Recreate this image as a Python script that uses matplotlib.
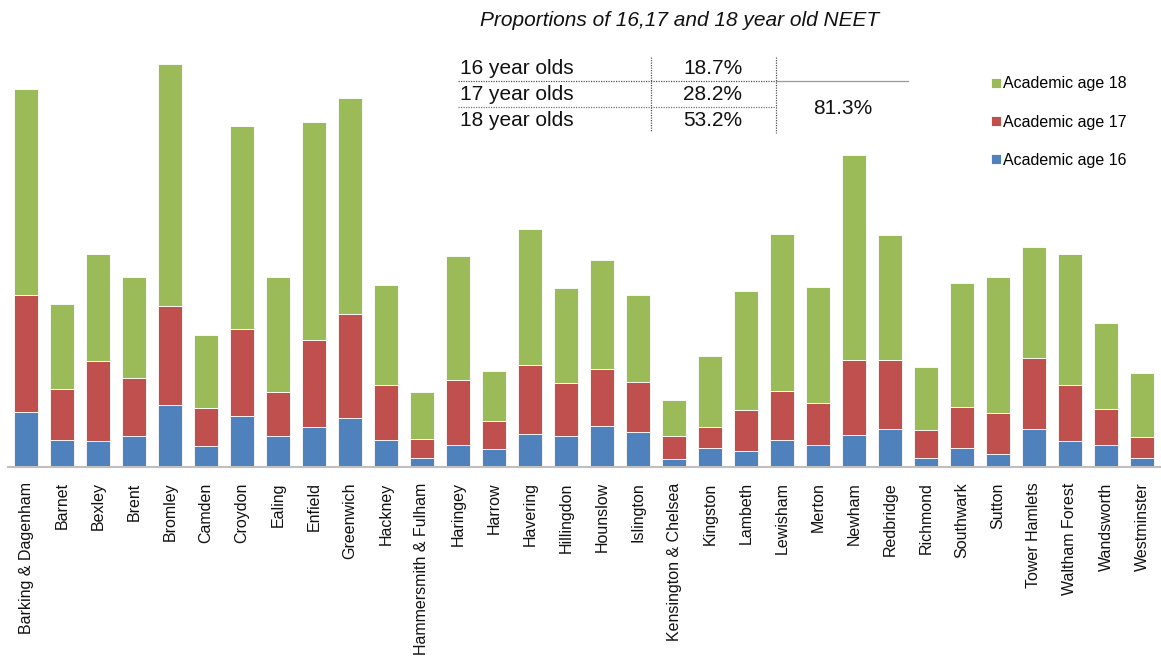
import matplotlib
matplotlib.use("Agg")
import matplotlib.pyplot as plt
import numpy as np

plt.rcParams["font.family"] = ["Liberation Sans", "DejaVu Sans"]

boroughs = [
    "Barking & Dagenham", "Barnet", "Bexley", "Brent", "Bromley", "Camden",
    "Croydon", "Ealing", "Enfield", "Greenwich", "Hackney",
    "Hammersmith & Fulham", "Haringey", "Harrow", "Havering", "Hillingdon",
    "Hounslow", "Islington", "Kensington & Chelsea", "Kingston", "Lambeth",
    "Lewisham", "Merton", "Newham", "Redbridge", "Richmond", "Southwark",
    "Sutton", "Tower Hamlets", "Waltham Forest", "Wandsworth", "Westminster",
]
age16 = [55.5, 27, 26, 30.6, 61.6, 20.6, 51.3, 30.6, 40, 49, 27.3,
         9, 21.6, 18, 33.3, 31, 41.3, 34.6, 8, 19.3, 15.6,
         27, 22, 32.3, 38.3, 9, 19.3, 13, 38.3, 25.6, 22, 9]
age17 = [116.7, 51, 79.6, 58.4, 99, 38.4, 86.7, 44, 87.3, 104.3, 55,
         19.3, 65.7, 28.3, 68.3, 52.6, 56.7, 50.4, 23, 20.7, 41,
         49, 42, 74.3, 68.3, 28.3, 41, 41, 70.7, 56.7, 36, 20.6]
age18 = [205.7, 84.7, 107.7, 101, 242.7, 73.3, 202.6, 115.4, 217.3, 215.7, 100,
         46.3, 123.3, 50, 136.4, 95, 109, 87, 36, 70.6, 119.4,
         156.6, 116, 205.7, 125.7, 62.7, 123.3, 136, 110.6, 130.7, 86, 64]

table_rows = ["16 year olds", "17 year olds", "18 year olds"]
table_shares = ["18.7%", "28.2%", "53.2%"]
combined_share = "81.3%"

BLUE = "#4F81BD"
RED = "#C0504D"
GREEN = "#9BBB59"

W, H = 1161, 657
fig = plt.figure(figsize=(W / 100, H / 100), dpi=100)
ax = fig.add_axes([8 / W, 190 / H, 1152 / W, 420 / H])

x = np.arange(len(boroughs))
a16 = np.array(age16)
a17 = np.array(age17)
a18 = np.array(age18)
bw = 0.67
b16 = ax.bar(x, a16, bw, color=BLUE, edgecolor="white", linewidth=0.6, label="Academic age 16")
b17 = ax.bar(x, a17, bw, bottom=a16, color=RED, edgecolor="white", linewidth=0.6, label="Academic age 17")
b18 = ax.bar(x, a18, bw, bottom=a16 + a17, color=GREEN, edgecolor="white", linewidth=0.6, label="Academic age 18")

ax.set_xlim(-0.5, len(boroughs) - 0.5)
ax.set_ylim(0, 420)
ax.set_xticks(x)
ax.set_xticklabels(boroughs, rotation=90, fontsize=11.5, color="#111111")
ax.tick_params(axis="x", length=0, pad=11)
ax.set_yticks([])
for side in ["top", "right", "left"]:
    ax.spines[side].set_visible(False)
ax.spines["bottom"].set_color("#BFBFBF")
ax.spines["bottom"].set_linewidth(1.5)

leg = ax.legend(handles=[b18, b17, b16], loc="upper left",
                bbox_to_anchor=((985 - 8) / 1152, (467 - 70) / 420),
                frameon=False, fontsize=11.5, handlelength=0.6, handleheight=0.6,
                handletextpad=0.15, labelspacing=1.45, borderaxespad=0)

# overlay in pixel coordinates for title and the little summary table
ov = fig.add_axes([0, 0, 1, 1], facecolor="none")
ov.set_xlim(0, W)
ov.set_ylim(H, 0)
ov.axis("off")

ov.text(680, 20, "Proportions of 16,17 and 18 year old NEET", fontsize=15,
        style="italic", ha="center", va="center", color="#111111")

row_y = [69, 95, 121]
for label, share, yy in zip(table_rows, table_shares, row_y):
    ov.text(460, yy, label, fontsize=15, ha="left", va="center", color="#111111")
    ov.text(713, yy, share, fontsize=15, ha="center", va="center", color="#111111")
ov.text(843, 108, combined_share, fontsize=15, ha="center", va="center", color="#111111")

ov.plot([458, 776], [81, 81], color="#555555", lw=0.9, ls=(0, (1, 1)))
ov.plot([776, 908], [81, 81], color="#999999", lw=0.9)
ov.plot([458, 776], [107, 107], color="#777777", lw=0.9, ls=(0, (1, 1)))
ov.plot([651, 651], [57, 132], color="#555555", lw=0.9, ls=(0, (1, 1)))
ov.plot([776, 776], [57, 133], color="#555555", lw=0.9, ls=(0, (1, 1)))

fig.savefig("out.png", dpi=100)
